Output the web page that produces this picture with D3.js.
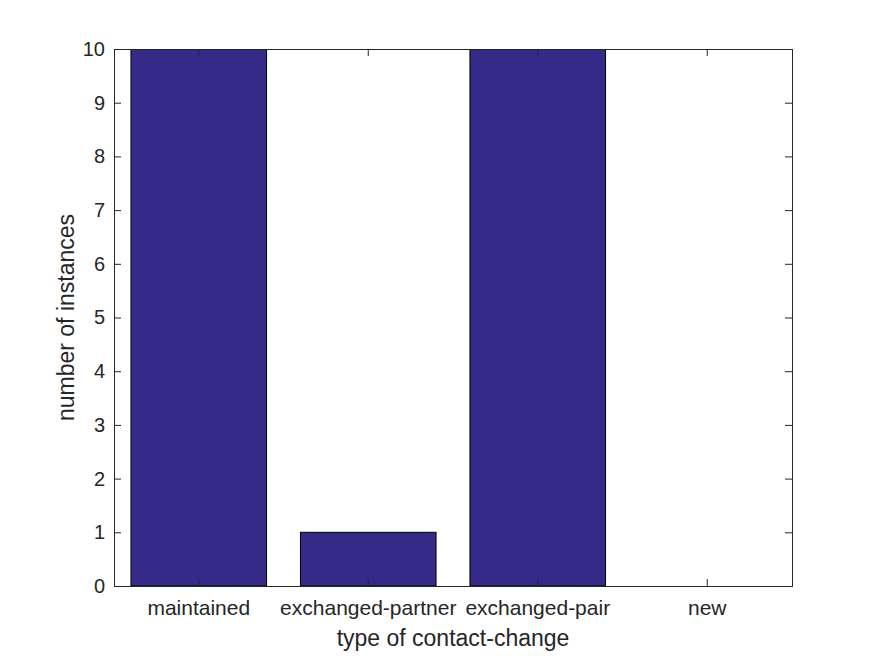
<!DOCTYPE html>
<html>
<head>
<meta charset="utf-8">
<script src="https://cdn.jsdelivr.net/npm/d3@7"></script>
<style>
  body { margin: 0; background: #fff; }
  svg text { font-family: "Liberation Sans", Arial, sans-serif; fill: #262626; }
</style>
</head>
<body>
<div id="chart"></div>
<script>
var categories = ["maintained", "exchanged-partner", "exchanged-pair", "new"];
var counts = [10, 1, 10, 0];
var yTicks = [0, 1, 2, 3, 4, 5, 6, 7, 8, 9, 10];

var width = 875, height = 656;
var margin = {left: 114, right: 83, top: 49, bottom: 70};
var w = width - margin.left - margin.right,
    h = height - margin.top - margin.bottom;

var svg = d3.select("#chart").append("svg")
    .attr("width", width)
    .attr("height", height);

svg.append("defs").append("clipPath").attr("id", "clip")
    .append("rect").attr("width", w).attr("height", h);

var g = svg.append("g")
    .attr("transform", "translate(" + margin.left + "," + margin.top + ")");

var x = d3.scaleBand()
    .domain(categories)
    .range([0, w])
    .paddingInner(0.2)
    .paddingOuter(0.1);

var y = d3.scaleLinear().domain([0, 10]).range([h, 0]);

// bars
g.append("g").attr("clip-path", "url(#clip)")
    .selectAll("rect")
    .data(categories)
    .enter().append("rect")
    .attr("x", function(d) { return x(d); })
    .attr("y", function(d, i) { return y(counts[i]); })
    .attr("width", x.bandwidth())
    .attr("height", function(d, i) { return h - y(counts[i]); })
    .style("fill", "#352a87")
    .style("stroke", "#000")
    .style("stroke-width", 1);

// axes, MATLAB style with ticks inside
var tickLen = 7;
var xAxis = g.append("g").attr("transform", "translate(0," + h + ")")
    .call(d3.axisBottom(x).tickSize(-tickLen).tickPadding(14));
var yAxis = g.append("g")
    .call(d3.axisLeft(y).tickValues(yTicks).tickSize(-tickLen).tickPadding(9));
var xTop = g.append("g")
    .call(d3.axisTop(x).tickSize(-tickLen).tickFormat(""));
var yRight = g.append("g").attr("transform", "translate(" + w + ",0)")
    .call(d3.axisRight(y).tickValues(yTicks).tickSize(-tickLen).tickFormat(""));

[xAxis, yAxis, xTop, yRight].forEach(function(a) {
    a.attr("font-size", null);
    a.select(".domain").attr("stroke", "#262626");
    a.selectAll(".tick line").attr("stroke", "#262626");
});
yAxis.selectAll(".tick text").style("font-size", "20px");
xAxis.selectAll(".tick text").style("font-size", "21px");

// axis titles
g.append("text")
    .attr("x", w / 2)
    .attr("y", h + 60)
    .attr("text-anchor", "middle")
    .style("font-size", "23px")
    .text("type of contact-change");

g.append("text")
    .attr("transform", "translate(" + (-40) + "," + (h / 2) + ") rotate(-90)")
    .attr("text-anchor", "middle")
    .style("font-size", "23px")
    .text("number of instances");
</script>
</body>
</html>
